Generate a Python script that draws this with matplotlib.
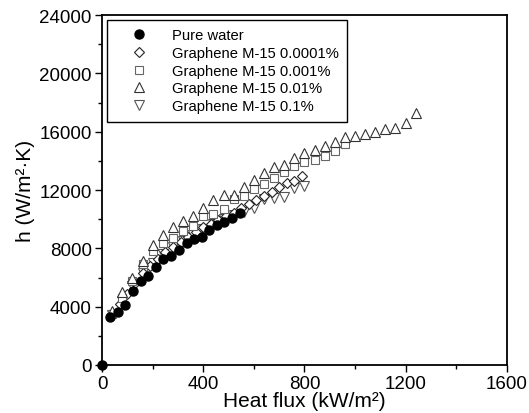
import matplotlib
matplotlib.use('Agg')
import matplotlib.pyplot as plt
from matplotlib.ticker import MultipleLocator

plt.rcParams['font.family'] = ['Liberation Sans', 'DejaVu Sans']

# pure water
x_water = [0, 31, 64, 91, 121, 153, 183, 213, 242, 273, 304, 335, 365, 394, 424, 453, 483, 515, 545]
h_water = [0, 3270, 3610, 4130, 5100, 5740, 6080, 6740, 7270, 7500, 7890, 8370, 8640, 8800, 9280, 9600, 9830, 10100, 10400]

# graphene M-15 0.0001%
x_g1 = [40, 70, 100, 130, 160, 190, 220, 250, 280, 310, 340, 370, 400, 430, 460, 490, 520, 550, 580, 610, 640, 670, 700, 730, 760, 790]
h_g1 = [3500, 4200, 4900, 5600, 6300, 6800, 7300, 7750, 8100, 8450, 8800, 9150, 9450, 9700, 9950, 10200, 10450, 10750, 11050, 11330, 11600, 11900, 12180, 12500, 12650, 12940]

# graphene M-15 0.001%
x_g2 = [40, 80, 120, 160, 200, 240, 280, 320, 360, 400, 440, 480, 520, 560, 600, 640, 680, 720, 760, 800, 840, 880, 920, 960]
h_g2 = [3500, 4600, 5750, 6900, 7800, 8400, 8700, 9200, 9550, 10200, 10350, 10700, 11400, 11600, 12050, 12400, 12850, 13250, 13650, 13950, 14050, 14350, 14650, 15150]

# graphene M-15 0.01%
x_g3 = [40, 80, 120, 160, 200, 240, 280, 320, 360, 400, 440, 480, 520, 560, 600, 640, 680, 720, 760, 800, 840, 880, 920, 960, 1000, 1040, 1080, 1120, 1160, 1200, 1240]
h_g3 = [3700, 5000, 6000, 7150, 8200, 8950, 9450, 9900, 10250, 10750, 11350, 11650, 11650, 12200, 12700, 13150, 13600, 13750, 14170, 14540, 14770, 15040, 15330, 15650, 15700, 15840, 15980, 16160, 16270, 16620, 17300]

# graphene M-15 0.1%
x_g4 = [40, 80, 120, 160, 200, 240, 280, 320, 360, 400, 440, 480, 520, 560, 600, 640, 680, 720, 760, 800]
h_g4 = [3400, 4400, 5400, 6300, 7000, 7600, 8100, 8500, 8900, 9300, 9700, 10000, 10300, 10500, 10800, 11400, 11450, 11500, 12150, 12250]

fig = plt.figure(figsize=(5.29, 4.14), dpi=100)
ax = fig.add_axes([0.193, 0.116, 0.765, 0.845])

ax.plot(x_g4, h_g4, 'v', ms=7, mfc='white', mec='#555555', mew=0.8, ls='none', label='Graphene M-15 0.1%', clip_on=False)
ax.plot(x_g1, h_g1, 'D', ms=5, mfc='white', mec='#222222', mew=0.8, ls='none', label='Graphene M-15 0.0001%', clip_on=False)
ax.plot(x_g2, h_g2, 's', ms=6.3, mfc='white', mec='#666666', mew=0.8, ls='none', label='Graphene M-15 0.001%', clip_on=False)
ax.plot(x_g3, h_g3, '^', ms=7, mfc='white', mec='#333333', mew=0.8, ls='none', label='Graphene M-15 0.01%', clip_on=False)
ax.plot(x_water, h_water, 'o', ms=6.5, color='black', ls='none', label='Pure water', clip_on=False)

ax.set_xlim(0, 1600)
ax.set_ylim(0, 24000)
ax.xaxis.set_major_locator(MultipleLocator(400))
ax.xaxis.set_minor_locator(MultipleLocator(200))
ax.yaxis.set_major_locator(MultipleLocator(4000))
ax.yaxis.set_minor_locator(MultipleLocator(2000))
ax.tick_params(which='both', direction='out', top=False, right=False, labelsize=13.5, width=1)
ax.tick_params(which='major', length=5, pad=2.5)
ax.tick_params(which='minor', length=3)
for s in ax.spines.values():
    s.set_linewidth(1.3)

ax.set_xlabel('Heat flux (kW/m²)', fontsize=15, labelpad=-1)
ax.set_ylabel('h (W/m²·K)', fontsize=15, labelpad=3)

handles, labels = ax.get_legend_handles_labels()
order = [4, 1, 2, 3, 0]
leg = ax.legend([handles[i] for i in order], [labels[i] for i in order],
                loc='upper left', bbox_to_anchor=(0.0, 1.0), fontsize=10.6,
                fancybox=False, edgecolor='black', framealpha=1,
                handlelength=3.2, handletextpad=0.63, borderpad=0.6,
                labelspacing=0.25, borderaxespad=0.3)
leg.get_frame().set_linewidth(1)

fig.savefig('out.png', dpi=100)
